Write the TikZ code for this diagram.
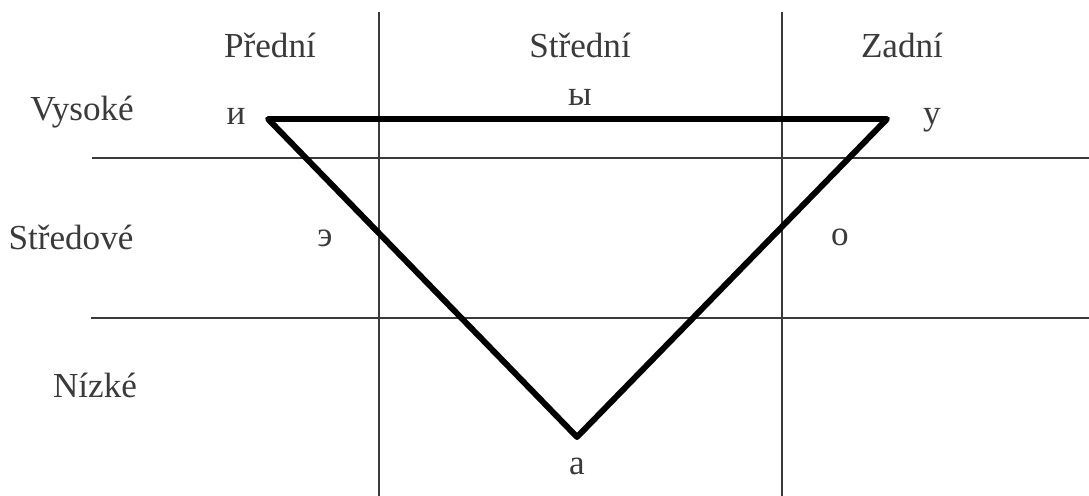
\documentclass[tikz,border=0pt]{standalone}
\usepackage{fontspec}
\setmainfont{Liberation Serif}
\usepackage{tikz}
\usetikzlibrary{positioning}
\definecolor{vwgray}{HTML}{3A3A3A}

\begin{document}
\begin{tikzpicture}[
  x=0.02cm, y=-0.02cm,
  gridline/.style={draw=vwgray, line width=0.7pt},
  vtriangle/.style={draw=black, line width=3.4pt, line join=round},
  head/.style={font=\fontsize{20}{24}\selectfont, text=vwgray, inner sep=0pt},
  vowel/.style={font=\fontsize{20}{24}\selectfont, text=vwgray, inner sep=0pt},
]
  \useasboundingbox (0,0) rectangle (1089,496);

  % Grid --------------------------------------------------------------------
  \coordinate (v1top) at (379,12);  \coordinate (v1bot) at (379,496);
  \coordinate (v2top) at (782,12);  \coordinate (v2bot) at (782,496);
  \coordinate (h1left) at (92,158); \coordinate (h1right) at (1089,158);
  \coordinate (h2left) at (91,318); \coordinate (h2right) at (1089,318);
  \draw[gridline] (v1top) -- (v1bot);
  \draw[gridline] (v2top) -- (v2bot);
  \draw[gridline] (h1left) -- (h1right);
  \draw[gridline] (h2left) -- (h2right);

  % Column and row heads ----------------------------------------------------
  \node[head] (front)  at (270,45)  {Přední};
  \node[head] (centre) at (580,45)  {Střední};
  \node[head] (back)   at (902,45)  {Zadní};
  \node[head] (high)   at (82,112)  {Vysoké};
  \node[head] (mid)    at (71,237)  {Středové};
  \node[head] (low)    at (95,385)  {Nízké};

  % Vowel triangle ----------------------------------------------------------
  \coordinate (ti) at (268,119);
  \coordinate (tu) at (887,119);
  \coordinate (ta) at (577,437);
  \draw[vtriangle] (ti) -- (tu) -- (ta) -- cycle;

  \node[vowel] (vi) at (236,116) {и};
  \node[vowel] (vy) at (580,97)  {ы};
  \node[vowel] (vu) at (932,120) {у};
  \node[vowel] (ve) at (325,238) {э};
  \node[vowel] (vo) at (840,237) {о};
  \node[vowel] (va) at (577,466) {а};
\end{tikzpicture}
\end{document}
